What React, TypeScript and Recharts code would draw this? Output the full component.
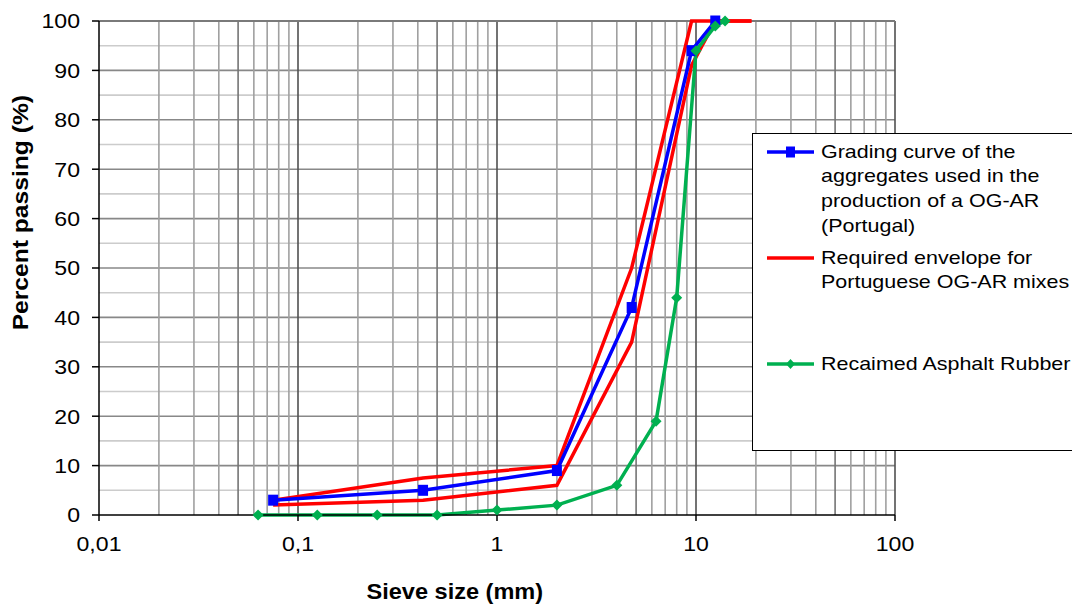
import React from 'react';
import { LineChart, Line, XAxis, YAxis, ReferenceLine, Legend } from 'recharts';

const gradingSizes = [0.075, 0.425, 2, 4.75, 9.5, 12.5];
const gradingPassing = [3, 5, 9, 42, 94, 100];

const envelopeSizes = [0.075, 0.425, 2, 4.75, 9.5, 12.5, 19];
const envelopeUpper = [3, 7.5, 10, 50, 100, 100, 100];
const envelopeLower = [2, 3, 6, 35, 91, 100, 100];

const rarSizes = [0.063, 0.125, 0.25, 0.5, 1, 2, 4, 6.3, 8, 10, 12.5, 14];
const rarPassing = [0, 0, 0, 0, 1, 2, 6, 19, 44, 94, 99, 100];

const xTicks = [0.01, 0.1, 1, 10, 100];
const yTicks = [0, 10, 20, 30, 40, 50, 60, 70, 80, 90, 100];

const vGridDecade = [0.1, 1, 10, 100];
const vGridFive = [0.05, 0.5, 5, 50];
const vGridMinor = [
  0.02, 0.03, 0.04, 0.06, 0.07, 0.08, 0.09,
  0.2, 0.3, 0.4, 0.6, 0.7, 0.8, 0.9,
  2, 3, 4, 6, 7, 8, 9,
  20, 30, 40, 60, 70, 80, 90,
];
const hGridMajor = [10, 20, 30, 40, 50, 60, 70, 80, 90];
const hGridMinor = [5, 15, 25, 35, 45, 55, 65, 75, 85, 95];

const legendLabels = [
  ['Grading curve of the', 'aggregates used in the', 'production of a OG-AR', '(Portugal)'],
  ['Required envelope for', 'Portuguese OG-AR mixes'],
  ['Recaimed Asphalt Rubber'],
];

const toPoints = (xs: number[], ys: number[]) => xs.map((x, i) => ({ x, y: ys[i] }));
const gradingData = toPoints(gradingSizes, gradingPassing);
const upperData = toPoints(envelopeSizes, envelopeUpper);
const lowerData = toPoints(envelopeSizes, envelopeLower);
const rarData = toPoints(rarSizes, rarPassing);

const FONT = '"Liberation Sans", Arial, sans-serif';
const BLUE = '#0000FF';
const RED = '#FF0000';
const GREEN = '#00B050';

const fmt = (v: number) => String(v).replace('.', ',');

const XTick = (props: any) => {
  const { x, y, payload } = props;
  return (
    <g transform={`translate(${x},${y})`}>
      <text transform="scale(1.1,1)" textAnchor="middle" dy="0.71em" fontSize={21} fontFamily={FONT} fill="#000">
        {fmt(payload.value)}
      </text>
    </g>
  );
};

const YTick = (props: any) => {
  const { x, y, payload } = props;
  return (
    <g transform={`translate(${x},${y})`}>
      <text transform="scale(1.1,1)" textAnchor="end" dy="0.355em" fontSize={21} fontFamily={FONT} fill="#000">
        {payload.value}
      </text>
    </g>
  );
};

const SquareDot = (props: any) => {
  const { cx, cy, index } = props;
  if (cx == null || cy == null) return <g key={index} />;
  return <rect key={index} x={cx - 5} y={cy - 5.5} width={10} height={11} fill={BLUE} />;
};

const DiamondDot = (props: any) => {
  const { cx, cy, index } = props;
  if (cx == null || cy == null) return <g key={index} />;
  const r = 5.5;
  return (
    <path key={index} d={`M${cx},${cy - r}L${cx + r},${cy}L${cx},${cy + r}L${cx - r},${cy}Z`} fill={GREEN} />
  );
};

const XTitle = (props: any) => {
  const vb = props.viewBox || { x: 99, y: 515, width: 796 };
  const cx = vb.x + vb.width * 0.447;
  const cy = vb.y + 84;
  return (
    <g transform={`translate(${cx},${cy})`}>
      <text transform="scale(1.07,1)" textAnchor="middle" fontSize={22} fontWeight="bold" fontFamily={FONT} fill="#000">
        Sieve size (mm)
      </text>
    </g>
  );
};

const YTitle = (props: any) => {
  const vb = props.viewBox || { x: 0, y: 21, width: 99, height: 494 };
  const cx = vb.x + 28;
  const cy = vb.y + vb.height * 0.388;
  return (
    <g transform={`translate(${cx},${cy}) rotate(-90)`}>
      <text transform="scale(1.12,1)" textAnchor="middle" fontSize={22} fontWeight="bold" fontFamily={FONT} fill="#000">
        Percent passing (%)
      </text>
    </g>
  );
};

const LegendIcon = ({ color, kind }: { color: string; kind: 'square' | 'none' | 'diamond' }) => (
  <svg width={50} height={14} style={{ position: 'absolute', left: 14, top: -7, overflow: 'visible' }}>
    <line x1={0} y1={7} x2={47} y2={7} stroke={color} strokeWidth={3.5} />
    {kind === 'square' && <rect x={19} y={1.5} width={9} height={11} fill={color} />}
    {kind === 'diamond' && <path d="M23.5,2L28,7L23.5,12L19,7Z" fill={color} />}
  </svg>
);

const legendRows: { color: string; kind: 'square' | 'none' | 'diamond'; top: number }[] = [
  { color: BLUE, kind: 'square', top: 18 },
  { color: RED, kind: 'none', top: 124 },
  { color: GREEN, kind: 'diamond', top: 230 },
];

const renderLegend = () => (
  <div style={{ position: 'relative', width: '100%', height: '100%' }}>
    {legendRows.map((row, i) => (
      <div key={i} style={{ position: 'absolute', left: 0, top: row.top, width: '100%' }}>
        <LegendIcon color={row.color} kind={row.kind} />
        {legendLabels[i].map((line, j) => (
          <div
            key={j}
            style={{
              position: 'absolute',
              left: 68,
              top: -12.3 + j * 24.6,
              height: 24.6,
              lineHeight: '24.6px',
              fontSize: 19,
              fontFamily: FONT,
              color: '#000',
              whiteSpace: 'nowrap',
              transform: 'scaleX(1.13)',
              transformOrigin: 'left center',
            }}
          >
            {line}
          </div>
        ))}
      </div>
    ))}
  </div>
);

export default function App() {
  return (
    <div style={{ position: 'absolute', left: 0, top: 0, width: 1072, height: 605, overflow: 'hidden', background: '#fff' }}>
      <LineChart width={1072} height={605} margin={{ top: 21, right: 177, bottom: 0, left: 0 }}>
        <XAxis
          dataKey="x"
          type="number"
          scale="log"
          domain={[0.01, 100]}
          ticks={xTicks}
          allowDataOverflow
          height={90}
          tickSize={6}
          tickMargin={15}
          tick={<XTick />}
          axisLine={{ stroke: '#000', strokeWidth: 1.5 }}
          tickLine={{ stroke: '#000', strokeWidth: 1.5 }}
          label={{ content: <XTitle /> }}
        />
        <YAxis
          type="number"
          domain={[0, 100]}
          ticks={yTicks}
          width={99}
          tickSize={7}
          tickMargin={12}
          tick={<YTick />}
          axisLine={{ stroke: '#000', strokeWidth: 1.5 }}
          tickLine={{ stroke: '#000', strokeWidth: 1.5 }}
          label={{ content: <YTitle /> }}
        />
        {hGridMinor.map((v) => (
          <ReferenceLine key={`hm${v}`} y={v} stroke="#cccccc" strokeWidth={1.6} />
        ))}
        {hGridMajor.map((v) => (
          <ReferenceLine key={`hM${v}`} y={v} stroke="#888888" strokeWidth={1.6} />
        ))}
        {vGridMinor.map((v) => (
          <ReferenceLine key={`vm${v}`} x={v} stroke="#a0a0a0" strokeWidth={1.6} />
        ))}
        {vGridFive.map((v) => (
          <ReferenceLine key={`vf${v}`} x={v} stroke="#747474" strokeWidth={1.6} />
        ))}
        {vGridDecade.map((v) => (
          <ReferenceLine key={`vd${v}`} x={v} stroke="#505050" strokeWidth={1.6} />
        ))}
        <ReferenceLine y={100} stroke="#7a7a7a" strokeWidth={2.2} />
        <Line data={upperData} dataKey="y" stroke={RED} strokeWidth={3.5} dot={false} isAnimationActive={false} legendType="none" />
        <Line data={lowerData} dataKey="y" stroke={RED} strokeWidth={3.5} dot={false} isAnimationActive={false} legendType="none" />
        <Line data={gradingData} dataKey="y" stroke={BLUE} strokeWidth={3.5} dot={<SquareDot />} isAnimationActive={false} />
        <Line data={rarData} dataKey="y" stroke={GREEN} strokeWidth={3.5} dot={<DiamondDot />} isAnimationActive={false} />
        <Legend
          layout="vertical"
          align="center"
          verticalAlign="middle"
          content={renderLegend}
          wrapperStyle={{
            left: 752,
            top: 133,
            width: 340,
            height: 318,
            border: '1.5px solid #000',
            background: '#fff',
            boxSizing: 'border-box',
            margin: 0,
            padding: 0,
          }}
        />
      </LineChart>
    </div>
  );
}
